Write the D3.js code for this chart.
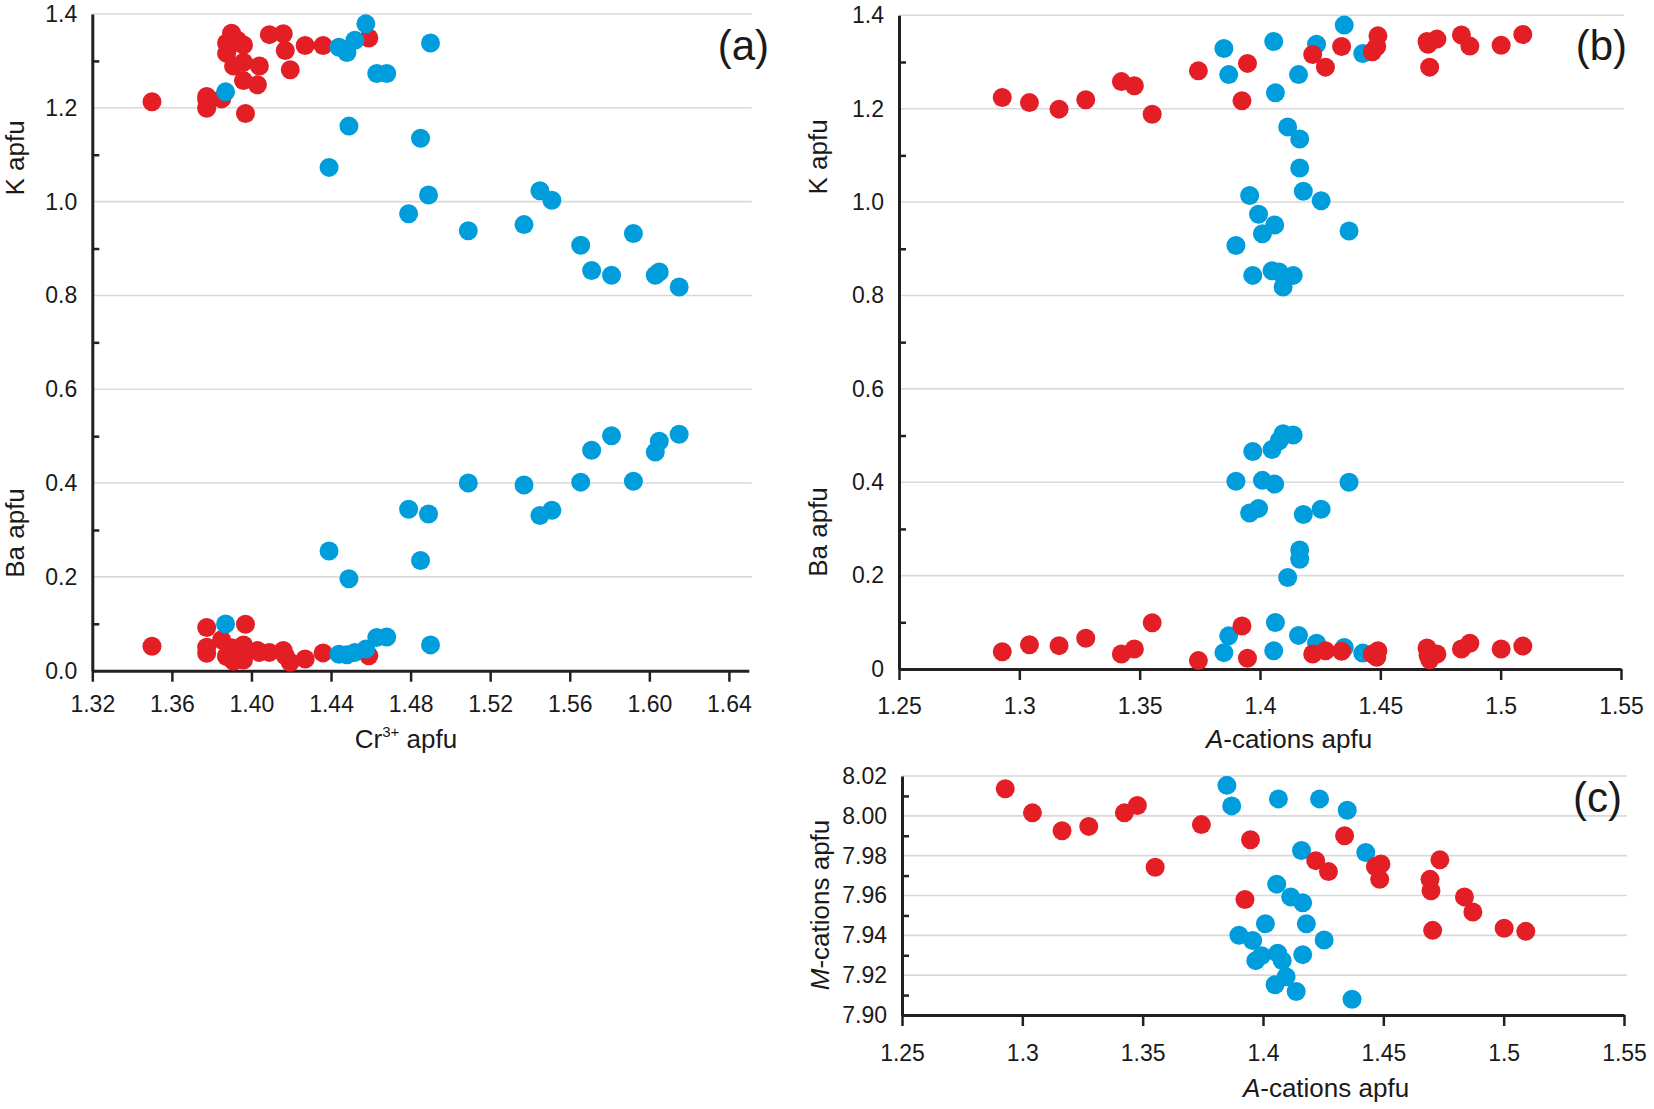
<!DOCTYPE html>
<html>
<head>
<meta charset="utf-8">
<script src="https://cdn.jsdelivr.net/npm/d3@7"></script>
<style>
  body { margin: 0; background: #fff; }
  svg { display: block; font-family: "Liberation Sans", Arial, sans-serif; }
</style>
</head>
<body>
<div id="chart"></div>
<script>
// blue samples: Cr3+, A-cations, K, Ba, M-cations (apfu)
const blueCr = [1.387, 1.4575, 1.444, 1.448, 1.452, 1.49, 1.463, 1.468, 1.449, 1.439, 1.485, 1.489,
                1.479, 1.545, 1.551, 1.509, 1.537, 1.592, 1.5655, 1.603, 1.571, 1.605, 1.581, 1.615];
const blueA  = [1.4064, 1.435, 1.385, 1.4427, 1.4057, 1.4235, 1.387, 1.416, 1.4115, 1.4165, 1.4165, 1.3957,
                1.3994, 1.418, 1.4254, 1.437, 1.4061, 1.401, 1.390, 1.397, 1.405, 1.408, 1.4138, 1.4096];
const blueK  = [1.234, 1.379, 1.329, 1.318, 1.344, 1.338, 1.273, 1.273, 1.161, 1.073, 1.135, 1.014,
                0.974, 1.023, 1.003, 0.938, 0.951, 0.932, 0.907, 0.843, 0.853, 0.85, 0.843, 0.818];
const blueBa = [0.0996, 0.046, 0.035, 0.034, 0.039, 0.055, 0.071, 0.072, 0.196, 0.255, 0.235, 0.334,
                0.344, 0.331, 0.342, 0.40, 0.396, 0.404, 0.402, 0.466, 0.47, 0.489, 0.501, 0.504];
const blueM  = [8.0085, 8.0028, 8.0153, 7.9816, 7.9657, 8.0085, 8.005, 7.9826, 7.9593, 7.9563, 7.9303, 7.9374,
                7.9298, 7.9458, 7.9377, 7.9079, 7.931, 7.9458, 7.94, 7.9273, 7.9152, 7.9273, 7.9118, 7.9192];

// red samples
const redCr = [1.3775, 1.35, 1.3775, 1.385, 1.396, 1.403, 1.397, 1.4195, 1.396, 1.3775, 1.3875, 1.404,
               1.436, 1.417, 1.409, 1.427, 1.393, 1.459, 1.391, 1.3875, 1.416, 1.396, 1.39, 1.39];
const redA  = [1.2929, 1.3042, 1.3165, 1.3276, 1.3424, 1.3478, 1.3552, 1.3744, 1.3948, 1.3925, 1.4219, 1.4272,
               1.4339, 1.4467, 1.449, 1.4485, 1.4694, 1.4735, 1.4705, 1.4698, 1.4837, 1.4872, 1.5002, 1.5092];
const redK  = [1.224, 1.213, 1.199, 1.219, 1.258, 1.249, 1.188, 1.281, 1.297, 1.217, 1.316, 1.289,
               1.333, 1.322, 1.356, 1.333, 1.344, 1.349, 1.289, 1.338, 1.358, 1.334, 1.336, 1.359];
const redBa = [0.037, 0.052, 0.05, 0.066, 0.032, 0.043, 0.099, 0.018, 0.023, 0.092, 0.032, 0.039,
               0.038, 0.032, 0.039, 0.025, 0.045, 0.032, 0.02, 0.03, 0.043, 0.055, 0.043, 0.049];
const redM  = [8.0136, 8.0015, 7.9925, 7.9947, 8.0015, 8.0052, 7.9742, 7.9956, 7.988, 7.958, 7.9775, 7.972,
               7.99, 7.9745, 7.9758, 7.9681, 7.9681, 7.9779, 7.9425, 7.9624, 7.9593, 7.9517, 7.9436, 7.942];

// tick values
const crTicks = [1.32, 1.36, 1.40, 1.44, 1.48, 1.52, 1.56, 1.60, 1.64];
const aTicks = [1.25, 1.3, 1.35, 1.4, 1.45, 1.5, 1.55];
const kbTicks = [0, 0.2, 0.4, 0.6, 0.8, 1.0, 1.2, 1.4];
const kbMinor = [0.1, 0.3, 0.5, 0.7, 0.9, 1.1, 1.3];
const mTicks = [7.90, 7.92, 7.94, 7.96, 7.98, 8.00, 8.02];
const mMinor = [7.91, 7.93, 7.95, 7.97, 7.99, 8.01];

const WIDTH = 1654, HEIGHT = 1109;
const RED = "#e31e24", BLUE = "#009ddc";
const INK = "#231f20", GRID = "#d9d9d9";
const R = 9.5;

const svg = d3.select('#chart').append('svg')
    .attr('width', WIDTH)
    .attr('height', HEIGHT);

function panel(o) {
    const x = d3.scaleLinear().domain(o.xDomain).range(o.xRange);
    const y = d3.scaleLinear().domain(o.yDomain).range(o.yRange);
    const g = svg.append('g');

    // gridlines
    g.append('g').selectAll('line')
        .data(o.yTicks.slice(1))
        .enter().append('line')
        .attr('x1', o.xRange[0]).attr('x2', o.xRange[1] + 3)
        .attr('y1', d => y(d)).attr('y2', d => y(d))
        .attr('stroke', GRID).attr('stroke-width', 1.6);

    // minor ticks inside the y axis
    const minor = g.append('g')
        .attr('transform', 'translate(' + o.xRange[0] + ',0)')
        .call(d3.axisRight(y).tickValues(o.yMinor).tickSize(7).tickFormat(''));
    minor.select('.domain').remove();
    minor.selectAll('line').attr('stroke', INK).attr('stroke-width', 2.5);

    // y axis
    const ya = g.append('g')
        .attr('transform', 'translate(' + o.xRange[0] + ',0)')
        .call(d3.axisLeft(y).tickValues(o.yTicks).tickFormat(o.yFmt)
            .tickSizeInner(0).tickSizeOuter(0).tickPadding(15));
    ya.select('.domain').attr('stroke', INK).attr('stroke-width', 3);
    ya.selectAll('text').attr('font-size', 23).attr('fill', '#1a1a1a');

    // x axis
    const xa = g.append('g')
        .attr('transform', 'translate(0,' + o.yRange[0] + ')')
        .call(d3.axisBottom(x).tickValues(o.xTicks).tickFormat(o.xFmt)
            .tickSizeInner(11).tickSizeOuter(0).tickPadding(o.xPad));
    xa.select('.domain').attr('stroke', INK).attr('stroke-width', 3);
    xa.selectAll('line').attr('stroke', INK).attr('stroke-width', 2.5);
    xa.selectAll('text').attr('font-size', 23).attr('fill', '#1a1a1a');

    // points
    o.series.forEach(function(s) {
        g.append('g').selectAll('circle')
            .data(s.x.map((v, i) => [v, s.y[i]]))
            .enter().append('circle')
            .attr('cx', d => x(d[0]))
            .attr('cy', d => y(d[1]))
            .attr('r', R)
            .attr('fill', s.color);
    });

    // panel letter
    g.append('text')
        .attr('x', o.tag[1]).attr('y', o.tag[2])
        .attr('text-anchor', 'end')
        .attr('font-size', 42).attr('fill', '#1a1a1a')
        .text(o.tag[0]);
    return g;
}

function yTitle(g, cx, cy, parts) {
    const t = g.append('text')
        .attr('transform', 'translate(' + cx + ',' + cy + ') rotate(-90)')
        .attr('text-anchor', 'middle').attr('dy', '0.35em')
        .attr('font-size', 26).attr('fill', '#1a1a1a');
    parts.forEach(p => t.append('tspan').attr('font-style', p[1] ? 'italic' : null).text(p[0]));
}

function xTitle(g, cx, by, parts) {
    const t = g.append('text')
        .attr('x', cx).attr('y', by)
        .attr('text-anchor', 'middle')
        .attr('font-size', 26).attr('fill', '#1a1a1a');
    parts.forEach(p => t.append('tspan').attr('font-style', p[1] ? 'italic' : null).text(p[0]));
    return t;
}

const f1 = d3.format('.1f');
const aFmt = d => String(+d.toFixed(2));

// (a) K and Ba vs Cr3+
const ga = panel({
    xDomain: [1.32, 1.65], xRange: [92.3, 748.8],
    yDomain: [0, 1.4], yRange: [670.7, 14],
    xTicks: crTicks, xFmt: d3.format('.2f'), xPad: 14,
    yTicks: kbTicks, yFmt: f1, yMinor: kbMinor,
    series: [
        {x: redCr, y: redK, color: RED}, {x: redCr, y: redBa, color: RED},
        {x: blueCr, y: blueK, color: BLUE}, {x: blueCr, y: blueBa, color: BLUE}
    ],
    tag: ['(a)', 769, 60]
});
yTitle(ga, 15, 158, [['K apfu']]);
yTitle(ga, 15, 533, [['Ba apfu']]);
const crT = ga.append('text')
    .attr('x', 406).attr('y', 748)
    .attr('text-anchor', 'middle')
    .attr('font-size', 26).attr('fill', '#1a1a1a');
crT.append('tspan').text('Cr');
crT.append('tspan').attr('font-size', 15).attr('dy', -11).text('3+');
crT.append('tspan').attr('dy', 11).text(' apfu');

// (b) K and Ba vs A-cations
const gb = panel({
    xDomain: [1.25, 1.55], xRange: [899, 1621],
    yDomain: [0, 1.4], yRange: [669, 15.3],
    xTicks: aTicks, xFmt: aFmt, xPad: 17.5,
    yTicks: kbTicks, yFmt: d => d === 0 ? '0' : f1(d), yMinor: kbMinor,
    series: [
        {x: blueA, y: blueK, color: BLUE}, {x: blueA, y: blueBa, color: BLUE},
        {x: redA, y: redK, color: RED}, {x: redA, y: redBa, color: RED}
    ],
    tag: ['(b)', 1627, 60]
});
yTitle(gb, 818, 157, [['K apfu']]);
yTitle(gb, 818, 532, [['Ba apfu']]);
xTitle(gb, 1289, 748, [['A', true], ['-cations apfu']]);

// (c) M-cations vs A-cations
const gc = panel({
    xDomain: [1.25, 1.55], xRange: [902, 1624],
    yDomain: [7.90, 8.02], yRange: [1015, 776],
    xTicks: aTicks, xFmt: aFmt, xPad: 18.5,
    yTicks: mTicks, yFmt: d3.format('.2f'), yMinor: mMinor,
    series: [
        {x: blueA, y: blueM, color: BLUE},
        {x: redA, y: redM, color: RED}
    ],
    tag: ['(c)', 1622, 812]
});
yTitle(gc, 820, 905, [['M', true], ['-cations apfu']]);
xTitle(gc, 1326, 1097, [['A', true], ['-cations apfu']]);
</script>
</body>
</html>
